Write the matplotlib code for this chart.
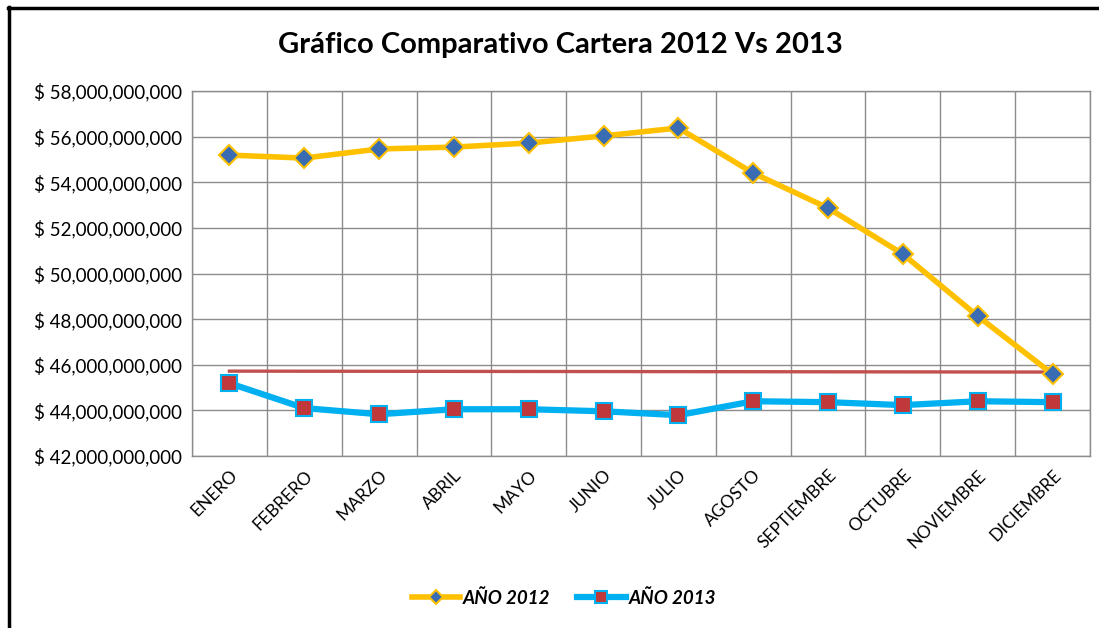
import matplotlib.pyplot as plt
from matplotlib.lines import Line2D
from matplotlib.ticker import FuncFormatter, MultipleLocator

# data (billions of pesos)
meses = ['ENERO', 'FEBRERO', 'MARZO', 'ABRIL', 'MAYO', 'JUNIO', 'JULIO',
         'AGOSTO', 'SEPTIEMBRE', 'OCTUBRE', 'NOVIEMBRE', 'DICIEMBRE']
cartera_2012 = [55.19, 55.06, 55.46, 55.54, 55.72, 56.03, 56.38,
                54.40, 52.87, 50.85, 48.13, 45.59]
cartera_2013 = [45.19, 44.10, 43.83, 44.05, 44.05, 43.96, 43.79,
                44.40, 44.36, 44.23, 44.40, 44.36]
tendencia = [45.72, 45.68]  # red line, first to last month

plt.rcParams['font.family'] = ['Lato', 'DejaVu Sans']

fig = plt.figure(figsize=(10.99, 6.28), dpi=100)
ax = fig.add_axes([192 / 1099, 1 - 456 / 628, 898 / 1099, 365 / 628])

x = list(range(len(meses)))
y12 = [v * 1e9 for v in cartera_2012]
y13 = [v * 1e9 for v in cartera_2013]

ax.plot([x[0], x[-1]], [t * 1e9 for t in tendencia], color='#C0504D', lw=2.4, zorder=2)
ax.plot(x, y12, color='#FFC000', lw=4, marker='D', ms=10, mfc='#3A6CB4',
        mec='#FFC000', mew=1.5, zorder=4, label='AÑO 2012')
ax.plot(x, y13, color='#00B0F0', lw=4.5, marker='s', ms=12, mfc='#C0383A',
        mec='#00B0F0', mew=1.5, zorder=3, label='AÑO 2013')

ax.set_xlim(-0.5, len(meses) - 0.5)
ax.set_ylim(42e9, 58e9)
ax.yaxis.set_major_locator(MultipleLocator(2e9))
ax.yaxis.set_major_formatter(FuncFormatter(lambda v, p: '$ {:,.0f}'.format(v)))
ax.set_xticks(x)
ax.set_xticklabels(meses, rotation=45, ha='right', rotation_mode='anchor', fontsize=12.5)
ax.set_xticks([i - 0.5 for i in range(len(meses) + 1)], minor=True)
ax.tick_params(axis='x', which='major', length=0, pad=8)
ax.tick_params(axis='x', which='minor', length=0)
ax.tick_params(axis='y', length=0, labelsize=13.5, pad=7)
ax.grid(True, which='minor', axis='x', color='#8C8C8C', lw=1)
ax.grid(True, which='major', axis='y', color='#8C8C8C', lw=1)
for s in ax.spines.values():
    s.set_color('#8C8C8C')
    s.set_linewidth(1)
ax.set_axisbelow(True)

fig.text(0.51, 1 - 45 / 628, 'Gráfico Comparativo Cartera 2012 Vs 2013',
         ha='center', va='center', fontsize=21, fontweight='bold')

leg = fig.legend(loc='center', bbox_to_anchor=(0.513, 1 - 598 / 628), ncol=2,
                 frameon=False, handlelength=2.6, columnspacing=1.4, handletextpad=0.15,
                 markerscale=0.75,
                 prop={'style': 'italic', 'weight': 'bold', 'size': 13.5})

# border (cropped on right and bottom)
fig.add_artist(Line2D([8.5 / 1099, 8.5 / 1099], [0, 1 - 7 / 628], color='black', lw=2.5))
fig.add_artist(Line2D([7.5 / 1099, 1], [1 - 7.5 / 628, 1 - 7.5 / 628], color='black', lw=2.5))

fig.savefig('out.png', dpi=100)
